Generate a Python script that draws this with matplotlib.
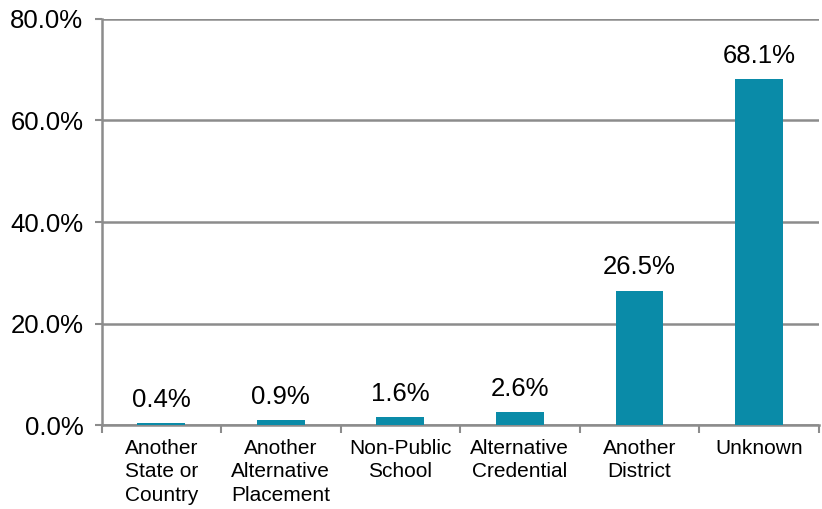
import numpy as np
import matplotlib
matplotlib.use("Agg")
import matplotlib.pyplot as plt
from matplotlib.ticker import FuncFormatter, FixedLocator

categories = ["Another\nState or\nCountry", "Another\nAlternative\nPlacement",
              "Non-Public\nSchool", "Alternative\nCredential",
              "Another\nDistrict", "Unknown"]
values = [0.4, 0.9, 1.6, 2.6, 26.5, 68.1]
y_ticks = [0, 20, 40, 60, 80]

bar_color = "#0a8ba8"
grid_color = "#8c8c8c"

plt.rcParams['font.family'] = ['Liberation Sans', 'DejaVu Sans']

fig = plt.figure(figsize=(8.22, 5.09), dpi=100)
ax = fig.add_axes([0.1235, 0.165, 0.8725, 0.7977])

x = np.arange(len(categories))
ax.bar(x, values, width=0.4, color=bar_color, zorder=3)

for xi, v in zip(x, values):
    ax.annotate("%.1f%%" % v, (xi, v), xytext=(0, 8), textcoords="offset points",
                ha="center", va="bottom", fontsize=18.5, color="black")

ax.set_xlim(-0.5, len(categories) - 0.5)
ax.set_ylim(0, 80)
ax.set_yticks(y_ticks)
ax.yaxis.set_major_formatter(FuncFormatter(lambda v, p: "%.1f%%" % v))
ax.tick_params(axis="y", labelsize=18.5, length=5, width=1.5, color=grid_color, pad=8)

ax.set_xticks(x)
ax.set_xticklabels(categories, fontsize=15, linespacing=1.3)
ax.tick_params(axis="x", which="major", length=0, pad=10)
ax.xaxis.set_minor_locator(FixedLocator(np.arange(-0.5, len(categories), 1.0)))
ax.tick_params(axis="x", which="minor", length=6, width=1.5, color=grid_color)

ax.yaxis.grid(True, color=grid_color, linewidth=1.8, zorder=0)
for s in ["top", "right"]:
    ax.spines[s].set_visible(False)
for s in ["left", "bottom"]:
    ax.spines[s].set_color(grid_color)
    ax.spines[s].set_linewidth(1.8)

fig.savefig("out.png", dpi=100)
